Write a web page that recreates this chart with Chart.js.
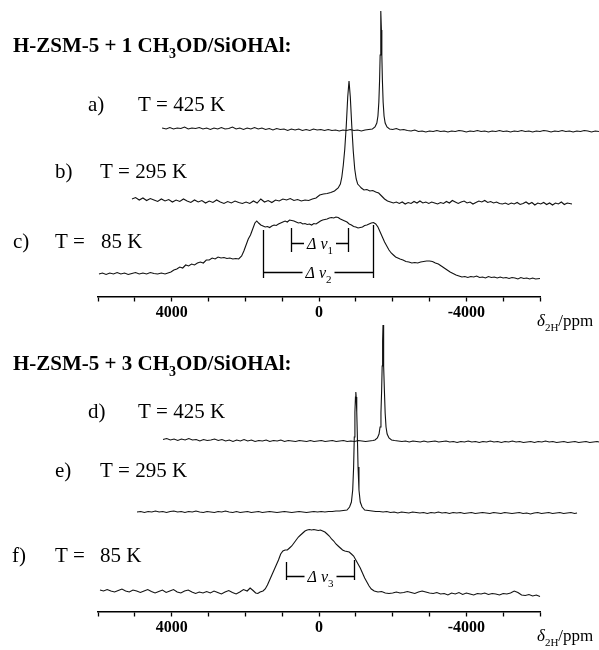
<!DOCTYPE html>
<html>
<head>
<meta charset="utf-8">
<script src="https://cdn.jsdelivr.net/npm/chart.js"></script>
<style>
  html, body { margin: 0; padding: 0; background: #fff; }
  #wrap { width: 599px; height: 650px; }
</style>
</head>
<body>
<div id="wrap"><canvas id="nmrChart" width="599" height="650"></canvas></div>
<script>
// spectra: [delta in ppm, intensity]
const traceA = [[4260,2],[4150,1],[4050,2.5],[3950,1],[3850,2],[3750,1.5],[3650,3],[3550,1],[3450,2],[3350,1.5],[3250,2.5],[3150,1],[3050,2],[2950,0.5],[2850,2],[2750,1],[2650,2.5],[2550,1],[2450,1.5],[2350,3],[2250,1],[2150,2],[2050,0.5],[1950,2],[1850,1],[1750,2.5],[1650,1],[1550,2],[1450,0.5],[1350,1.5],[1250,0],[1150,1.5],[1050,0.5],[950,1],[850,-0.5],[750,1],[650,0],[550,1],[450,-0.5],[350,0.5],[250,-0.5],[150,1],[50,0],[-50,0.5],[-150,-0.5],[-250,0.5],[-350,-0.5],[-450,0],[-550,-1],[-650,0],[-750,-0.5],[-850,0.5],[-950,-0.5],[-1050,0],[-1150,-1],[-1250,0],[-1350,0.5],[-1450,1],[-1520,3],[-1570,7],[-1600,14],[-1625,28],[-1645,50],[-1660,75],[-1672,100],[-1683,119],[-1694,100],[-1706,75],[-1721,50],[-1741,28],[-1766,14],[-1796,7],[-1846,3],[-1916,1],[-2000,0.5],[-2100,1.5],[-2200,0],[-2300,0.5],[-2400,-0.5],[-2500,-1],[-2600,0],[-2700,-1.5],[-2800,-1],[-2900,-2],[-3000,-1],[-3100,-1.5],[-3200,-0.5],[-3300,-1.5],[-3400,-1],[-3500,-2],[-3600,-1],[-3700,-1.5],[-3800,-0.5],[-3900,-1],[-4000,-2],[-4100,-1],[-4200,-1.5],[-4300,-0.5],[-4400,-1.5],[-4500,-1],[-4600,-2],[-4700,-1],[-4800,-1.5],[-4900,-0.5],[-5000,-1.5],[-5100,-1],[-5200,-2],[-5300,-1],[-5400,-1.5],[-5500,-0.5],[-5600,-1.5],[-5700,-1],[-5800,-2],[-5900,-1],[-6000,-1.5],[-6100,-0.5],[-6200,-1],[-6300,-2],[-6400,-1],[-6500,-1.5],[-6600,-0.5],[-6700,-1.5],[-6800,-1],[-6900,-2],[-7000,-1],[-7100,-1.5],[-7200,-0.5],[-7300,-1],[-7400,-2],[-7500,-1],[-7600,-1.5]];

const traceB = [[5077,2],[4980,3.5],[4880,1],[4780,3],[4680,0.5],[4580,2.5],[4480,1],[4380,-0.5],[4280,2],[4180,0],[4080,1.5],[3980,-1],[3880,1],[3780,-0.5],[3680,2],[3580,0],[3480,-1.5],[3380,1],[3280,-1],[3180,0.5],[3080,-2],[2980,0],[2880,-1.5],[2780,1],[2680,-1],[2580,-2.5],[2480,-0.5],[2380,-2],[2280,0],[2180,-1.5],[2080,-2.5],[1980,-1],[1880,-2.5],[1780,0],[1680,-2],[1580,2],[1480,-1],[1380,0.5],[1280,-1.5],[1180,1],[1080,0],[980,2],[880,1],[780,2.5],[680,0.5],[580,1.5],[480,0],[380,1],[280,0.5],[180,2],[80,3],[-20,6],[-120,7],[-220,7.5],[-320,8.5],[-420,10],[-520,13],[-580,17],[-620,24],[-660,36],[-700,52],[-740,75],[-780,104],[-815,120],[-850,104],[-890,75],[-930,50],[-970,32],[-1010,22],[-1050,17],[-1100,15],[-1150,13],[-1220,11],[-1300,11.5],[-1380,10],[-1460,10.5],[-1540,9],[-1620,8],[-1700,5],[-1780,2],[-1860,0],[-1940,-1],[-2020,-2],[-2100,-1],[-2180,-2.5],[-2260,-1],[-2340,-3],[-2420,-1.5],[-2500,-2.5],[-2580,-0.5],[-2660,-2],[-2740,0],[-2820,-2],[-2900,-1],[-2980,-2.5],[-3060,-1],[-3140,-2],[-3220,-3],[-3300,-1.5],[-3380,-2.5],[-3460,-0.5],[-3540,-2],[-3620,0.5],[-3700,-1],[-3780,-2.5],[-3860,-1],[-3940,0],[-4020,-2],[-4100,-1],[-4180,-3],[-4260,-1.5],[-4340,0],[-4420,-1],[-4500,0.5],[-4580,-1.5],[-4660,-0.5],[-4740,-2],[-4820,-1],[-4900,-2.5],[-4980,-3],[-5060,-2],[-5140,-3.5],[-5220,-2],[-5300,-3],[-5380,-1.5],[-5460,-3.5],[-5540,-2.5],[-5620,-1],[-5700,-3],[-5780,-1.5],[-5860,-4],[-5940,-2],[-6020,-3],[-6100,-1.5],[-6180,-3.5],[-6260,-2],[-6340,-4],[-6420,-2],[-6500,-3],[-6580,-1],[-6660,-3.5],[-6740,-2],[-6869,-3]];

const traceC = [[5973,1],[5880,2],[5780,0.5],[5680,2],[5580,1],[5480,2.5],[5380,1],[5280,2],[5180,0.5],[5080,1.5],[4980,2.5],[4880,1],[4780,2],[4680,1],[4580,2.5],[4480,1.5],[4380,1],[4280,2],[4180,1],[4100,2],[4020,3],[3940,5],[3860,6],[3780,8],[3700,7],[3620,10],[3540,9],[3460,11],[3380,10],[3300,12],[3220,13],[3140,12],[3060,15],[2980,15],[2900,17],[2820,16],[2740,18],[2660,17],[2580,17.5],[2500,16.5],[2420,17],[2340,16],[2260,16.5],[2180,16],[2100,19],[2040,24],[1980,30],[1920,36],[1860,40],[1800,46],[1740,52],[1690,54],[1640,52],[1580,50],[1520,49],[1460,48],[1400,48.5],[1340,47.5],[1280,49],[1220,50],[1160,49.5],[1100,51],[1040,52],[980,53],[920,54],[860,53],[800,55],[740,54.5],[680,54],[620,53],[560,52],[500,52.5],[440,51],[380,51.5],[320,50.5],[260,51],[200,50],[140,51.5],[80,51],[20,52.5],[-40,54],[-100,55],[-160,55.5],[-220,56],[-280,57],[-340,57.5],[-400,57],[-460,58],[-520,57.5],[-580,56],[-640,55],[-700,54],[-760,53],[-820,51],[-880,50],[-940,48.5],[-1000,48],[-1060,47],[-1120,47.5],[-1180,48],[-1240,49.5],[-1300,50],[-1360,51],[-1420,52],[-1480,52.5],[-1540,51],[-1600,48],[-1660,43],[-1720,38],[-1780,33],[-1840,29],[-1900,25],[-1960,22],[-2020,20],[-2080,18],[-2140,17],[-2200,16],[-2280,15],[-2360,13.5],[-2440,13],[-2520,12],[-2600,12.5],[-2680,12],[-2760,13],[-2840,13.5],[-2920,14],[-3000,14],[-3080,13.5],[-3160,12],[-3240,11],[-3320,9],[-3400,7],[-3480,5],[-3560,3],[-3640,1.5],[-3720,0],[-3800,-1],[-3880,-2],[-3960,-1.5],[-4040,-2.5],[-4120,-1.5],[-4200,-2],[-4280,-1],[-4360,-2.5],[-4440,-2],[-4520,-3],[-4600,-1.5],[-4680,-2.5],[-4760,-2],[-4840,-3],[-4920,-2],[-5000,-3],[-5080,-2.5],[-5160,-3.5],[-5240,-2.5],[-5320,-3],[-5400,-4],[-5480,-2.5],[-5560,-3.5],[-5640,-3],[-5720,-4],[-5800,-3],[-5880,-4],[-6000,-3.5]];

const traceD = [[4235,1.5],[4135,2.5],[4035,1],[3935,2],[3835,0.5],[3735,2],[3635,1],[3535,2.5],[3435,1],[3335,1.5],[3235,0],[3135,1.5],[3035,0.5],[2935,1],[2835,2],[2735,0.5],[2635,1.5],[2535,0],[2435,1],[2335,-0.5],[2235,1],[2135,0],[2035,1.5],[1935,0],[1835,1],[1735,-0.5],[1635,0.5],[1535,0],[1435,1],[1335,-0.5],[1235,0.5],[1135,0],[1035,1],[935,-0.5],[835,0.5],[735,0],[635,-0.5],[535,0.5],[435,0],[335,-0.5],[235,0.5],[135,-0.5],[35,0],[-65,0.5],[-165,-0.5],[-265,0],[-365,0.5],[-465,-0.5],[-565,0],[-665,0.5],[-765,-0.5],[-865,0],[-965,-0.5],[-1065,0.5],[-1165,0],[-1265,-0.5],[-1365,0],[-1465,0.5],[-1520,1],[-1585,3],[-1630,7],[-1658,14],[-1682,28],[-1700,50],[-1715,75],[-1727,100],[-1738,116],[-1749,100],[-1761,75],[-1776,50],[-1796,28],[-1820,14],[-1850,7],[-1900,3],[-1970,1],[-2050,0.5],[-2150,0],[-2250,-0.5],[-2350,0],[-2450,-1],[-2550,0],[-2650,-0.5],[-2750,-1],[-2850,0],[-2950,-1],[-3050,-0.5],[-3150,0],[-3250,-1],[-3350,-0.5],[-3450,0],[-3550,-1],[-3650,-0.5],[-3750,-1.5],[-3850,-0.5],[-3950,-1],[-4050,0],[-4150,-1],[-4250,-0.5],[-4350,-1.5],[-4450,-0.5],[-4550,-1],[-4650,0],[-4750,-1],[-4850,-0.5],[-4950,-1.5],[-5050,-0.5],[-5150,-1],[-5250,0],[-5350,-1],[-5450,-0.5],[-5550,-1.5],[-5650,-1],[-5750,-0.5],[-5850,-1.5],[-5950,-0.5],[-6050,-1],[-6150,0],[-6250,-1],[-6350,-0.5],[-6450,-1.5],[-6550,-1],[-6650,-0.5],[-6750,-1.5],[-6850,-1],[-6950,-0.5],[-7050,-1.5],[-7150,-1],[-7250,-0.5],[-7350,-1.5],[-7450,-1],[-7550,-0.5],[-7602,-1]];

const traceE = [[4941,0],[4840,0.5],[4740,-0.5],[4640,0.5],[4540,0],[4440,1],[4340,0],[4240,0.5],[4140,-0.5],[4040,0.5],[3940,1],[3840,0],[3740,0.5],[3640,-0.5],[3540,0.5],[3440,0],[3340,1],[3240,0],[3140,-0.5],[3040,0.5],[2940,0],[2840,-0.5],[2740,0.5],[2640,0],[2540,1],[2440,0],[2340,-0.5],[2240,0.5],[2140,-0.5],[2040,0],[1940,0.5],[1840,-0.5],[1740,0],[1640,0.5],[1540,-0.5],[1440,0],[1340,0.5],[1240,0],[1140,-0.5],[1040,0],[940,0.5],[840,0],[740,-0.5],[640,0],[540,0.5],[440,0],[340,-0.5],[240,0],[140,0.5],[40,0],[-60,0.5],[-160,0],[-260,0.5],[-360,0.5],[-460,1],[-560,1],[-660,1.5],[-760,2],[-830,5],[-880,10],[-915,22],[-940,45],[-958,75],[-975,100],[-990,115],[-1000,120],[-1010,115],[-1025,100],[-1042,75],[-1060,45],[-1085,22],[-1120,10],[-1170,5],[-1240,2],[-1340,1.5],[-1440,1],[-1540,0.5],[-1640,0.5],[-1740,0],[-1840,0.5],[-1940,-0.5],[-2040,0],[-2140,-1],[-2240,0],[-2340,-0.5],[-2440,-1],[-2540,0],[-2640,-0.5],[-2740,-1],[-2840,-0.5],[-2940,-1.5],[-3040,-0.5],[-3140,-1],[-3240,0],[-3340,-1],[-3440,-0.5],[-3540,-1.5],[-3640,-0.5],[-3740,-1],[-3840,-0.5],[-3940,-1.5],[-4040,-1],[-4140,-0.5],[-4240,-1.5],[-4340,-1],[-4440,-0.5],[-4540,-1],[-4640,-1.5],[-4740,-0.5],[-4840,-1],[-4940,-1.5],[-5040,-0.5],[-5140,-1],[-5240,-1.5],[-5340,-1],[-5440,-0.5],[-5540,-1.5],[-5640,-1],[-5740,-2],[-5840,-1],[-5940,-0.5],[-6040,-1.5],[-6140,-1],[-6240,-0.5],[-6340,-1.5],[-6440,-1],[-6540,-0.5],[-6640,-1.5],[-6740,-1],[-6840,-0.5],[-6940,-1.5],[-7005,-1]];

const traceF = [[5946,2],[5850,1],[5750,2.5],[5650,1],[5550,0],[5450,1.5],[5350,3],[5250,1],[5150,0],[5050,2],[4950,1],[4850,-0.5],[4750,1],[4650,2.5],[4550,0.5],[4450,-1],[4350,0.5],[4250,2],[4150,-0.5],[4050,1],[3950,2.5],[3850,0],[3750,-1],[3650,1],[3550,2],[3450,0],[3350,-1.5],[3250,0],[3150,-1],[3050,0.5],[2950,-1],[2850,1],[2750,-0.5],[2650,-2],[2550,0],[2450,1.5],[2350,-0.5],[2250,-2],[2150,0],[2050,2.5],[1950,1],[1870,4],[1790,1.5],[1720,-1],[1660,-1.5],[1600,0],[1520,1],[1460,3],[1400,7],[1340,12],[1280,17],[1220,22],[1160,27],[1100,32],[1040,38],[980,41],[920,42],[860,42],[800,44],[740,46],[680,49],[620,52],[560,55],[500,57],[440,59],[380,61],[320,62],[260,62.5],[200,62],[140,62.5],[80,62],[20,61.5],[-40,62],[-100,61],[-160,60],[-220,58],[-280,56],[-340,53],[-400,51],[-460,48],[-520,46],[-580,44],[-640,42],[-700,41],[-760,40.5],[-820,40],[-880,38],[-940,36],[-1000,32],[-1060,28],[-1120,24],[-1180,19],[-1240,14],[-1300,10],[-1360,6],[-1420,3],[-1500,1],[-1600,0],[-1700,0.5],[-1800,-1],[-1900,-1.5],[-2000,-1],[-2100,0],[-2200,-1],[-2300,-0.5],[-2400,0.5],[-2500,-0.5],[-2600,-1.5],[-2700,0],[-2800,1],[-2900,0],[-3000,-1],[-3100,-1.5],[-3200,-0.5],[-3300,-2],[-3400,-1.5],[-3500,-3],[-3600,-1],[-3700,-2],[-3800,-0.5],[-3900,-2.5],[-4000,-1],[-4100,-2],[-4200,-3],[-4300,-1.5],[-4400,-2],[-4500,-1],[-4600,-2.5],[-4700,-1.5],[-4800,-2],[-4900,-3],[-5000,-1.5],[-5100,-2],[-5200,-1],[-5300,1],[-5400,-0.5],[-5500,-3],[-5600,-3.5],[-5700,-2.5],[-5800,-4],[-5900,-3],[-6000,-4.5]];

// vertical stacking of the six spectra (chart y units)
const traceOffsets = [520, 449, 375, 209, 138, 58];
const axisLevels = [353, 38];           // top panel axis, bottom panel axis
const tickLabels = [4000, 0, -4000];
const xRange = [-6000, 6000];

// linewidth markers: [from ppm, to ppm, left bar top, right bar top, bar bottom, line level, subscript]
const markers = [
  [760, -787, 422, 422, 398, 407, '1'],
  [1520, -1466, 420, 425, 372, 378, '2'],
  [896, -950, 88, 90, 70, 74, '3']
];

const FONT = '"Liberation Serif", "Times New Roman", serif';

// figure text (pixel layout)
const labels = [
  { x: 13, y: 52, size: 21, bold: true, parts: [{ t: 'H-ZSM-5 + 1 CH' }, { t: '3', sub: true }, { t: 'OD/SiOHAl:' }] },
  { x: 88, y: 111, size: 21, parts: [{ t: 'a)' }] },
  { x: 138, y: 111, size: 21, parts: [{ t: 'T = 425 K' }] },
  { x: 55, y: 178, size: 21, parts: [{ t: 'b)' }] },
  { x: 100, y: 178, size: 21, parts: [{ t: 'T = 295 K' }] },
  { x: 13, y: 248, size: 21, parts: [{ t: 'c)' }] },
  { x: 55, y: 248, size: 21, parts: [{ t: 'T =' }] },
  { x: 101, y: 248, size: 21, parts: [{ t: '85 K' }] },
  { x: 13, y: 370, size: 21, bold: true, parts: [{ t: 'H-ZSM-5 + 3 CH' }, { t: '3', sub: true }, { t: 'OD/SiOHAl:' }] },
  { x: 88, y: 418, size: 21, parts: [{ t: 'd)' }] },
  { x: 138, y: 418, size: 21, parts: [{ t: 'T = 425 K' }] },
  { x: 55, y: 477, size: 21, parts: [{ t: 'e)' }] },
  { x: 100, y: 477, size: 21, parts: [{ t: 'T = 295 K' }] },
  { x: 12, y: 562, size: 21, parts: [{ t: 'f)' }] },
  { x: 55, y: 562, size: 21, parts: [{ t: 'T =' }] },
  { x: 100, y: 562, size: 21, parts: [{ t: '85 K' }] },
  { x: 537, y: 326, size: 17, parts: [{ t: 'δ', italic: true }, { t: '2H', sub: true }, { t: '/ppm' }] },
  { x: 537, y: 641, size: 17, parts: [{ t: 'δ', italic: true }, { t: '2H', sub: true }, { t: '/ppm' }] }
];

function drawRich(ctx, x, y, parts, size, bold) {
  let cx = x;
  parts.forEach(p => {
    const fs = p.sub ? Math.round(size * 0.66) : size;
    ctx.font = (p.italic ? 'italic ' : '') + (bold ? 'bold ' : '') + fs + 'px ' + FONT;
    ctx.fillText(p.t, cx, y + (p.sub ? Math.round(size * 0.3) : 0));
    cx += ctx.measureText(p.t).width;
  });
  return cx - x;
}

function richWidth(ctx, parts, size, bold) {
  let w = 0;
  parts.forEach(p => {
    const fs = p.sub ? Math.round(size * 0.66) : size;
    ctx.font = (p.italic ? 'italic ' : '') + (bold ? 'bold ' : '') + fs + 'px ' + FONT;
    w += ctx.measureText(p.t).width;
  });
  return w;
}

const figureText = {
  id: 'figureText',
  afterDraw(chart) {
    const ctx = chart.ctx;
    const xs = chart.scales.x, ys = chart.scales.y;
    ctx.save();
    ctx.fillStyle = '#000';
    ctx.textBaseline = 'alphabetic';
    labels.forEach(l => drawRich(ctx, l.x, l.y, l.parts, l.size, l.bold));

    // linewidth markers
    ctx.strokeStyle = '#000';
    ctx.lineWidth = 1.3;
    markers.forEach(([from, to, topL, topR, bottom, level, sub]) => {
      const x1 = Math.round(xs.getPixelForValue(from)) + 0.5;
      const x2 = Math.round(xs.getPixelForValue(to)) + 0.5;
      const yb = ys.getPixelForValue(bottom);
      const yl = Math.round(ys.getPixelForValue(level)) + 0.5;
      const parts = [{ t: 'Δ', italic: true }, { t: ' ν', italic: true }, { t: sub, sub: true }];
      const w = richWidth(ctx, parts, 16, false);
      const mid = (x1 + x2) / 2;
      const tx = mid - w / 2;
      ctx.beginPath();
      ctx.moveTo(x1, ys.getPixelForValue(topL)); ctx.lineTo(x1, yb);
      ctx.moveTo(x2, ys.getPixelForValue(topR)); ctx.lineTo(x2, yb);
      ctx.moveTo(x1, yl); ctx.lineTo(tx - 3, yl);
      ctx.moveTo(tx + w + 3, yl); ctx.lineTo(x2, yl);
      ctx.stroke();
      drawRich(ctx, tx, yl + 5, parts, 16, false);
    });
    ctx.restore();
  }
};

const makeChart = () => {
  const ctx = document.getElementById('nmrChart').getContext('2d');
  const traces = [traceA, traceB, traceC, traceD, traceE, traceF];
  const datasets = traces.map((tr, i) => ({
    data: tr.map(([ppm, v]) => ({ x: ppm, y: v + traceOffsets[i] })),
    borderColor: '#111',
    borderWidth: 1.1,
    pointRadius: 0,
    tension: 0,
    fill: false,
    clip: false
  }));

  const axisOpts = (level) => ({
    type: 'linear',
    reverse: true,
    min: xRange[0],
    max: xRange[1],
    position: { y: level },
    border: { display: true, color: '#000', width: 1.5 },
    grid: { drawOnChartArea: false, drawTicks: true, tickLength: 4, tickWidth: 1.3, tickColor: '#000' },
    ticks: {
      stepSize: 1000,
      autoSkip: false,
      maxRotation: 0,
      padding: 2,
      color: '#000',
      font: { family: FONT, size: 16, weight: 'bold' },
      callback: (v) => tickLabels.includes(v) ? String(v) : ''
    }
  });

  return new Chart(ctx, {
    type: 'line',
    data: { datasets: datasets },
    options: {
      responsive: false,
      animation: false,
      layout: { padding: { left: 98, right: 59, top: 0, bottom: 0 } },
      plugins: { legend: { display: false }, tooltip: { enabled: false }, title: { display: false } },
      scales: {
        x: axisOpts(axisLevels[1]),
        xTop: axisOpts(axisLevels[0]),
        y: { display: false, min: 0, max: 650 }
      }
    },
    plugins: [figureText]
  });
};

makeChart();
</script>
</body>
</html>
